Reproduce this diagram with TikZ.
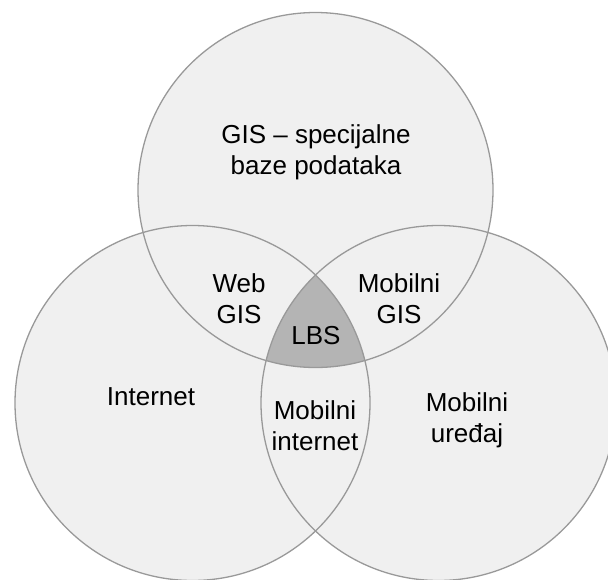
\documentclass[tikz,border=0pt]{standalone}
\usepackage{fontspec}
\setmainfont{Liberation Sans}
\definecolor{circfill}{HTML}{F0F0F0}
\definecolor{circline}{HTML}{999999}
\definecolor{corefill}{HTML}{B4B4B4}
\begin{document}
\begin{tikzpicture}[x=1pt,y=-1pt,
  venn/.style={draw=circline,line width=1.3pt},
  lbl/.style={align=center,font=\fontsize{26}{31}\selectfont,text=black,inner sep=0pt}]
\useasboundingbox (0,0) rectangle (608,579);
\clip (0,0) rectangle (608,579);
\coordinate (ct) at (315.5,190);
\coordinate (cl) at (192.5,403);
\coordinate (cr) at (438.5,403);
\fill[circfill] (ct) circle (177.5);
\fill[circfill] (cl) circle (177.5);
\fill[circfill] (cr) circle (177.5);
\begin{scope}
  \clip (ct) circle (177.5);
  \clip (cl) circle (177.5);
  \fill[corefill] (cr) circle (177.5);
\end{scope}
\draw[venn] (ct) circle (177.5);
\draw[venn] (cl) circle (177.5);
\draw[venn] (cr) circle (177.5);
\node[lbl] (gis) at (316,152) {GIS – specijalne\\baze podataka};
\node[lbl] (web) at (239,299) {Web\\GIS};
\node[lbl] (mgis) at (399,299) {Mobilni\\GIS};
\node[lbl] (lbs) at (316,336) {LBS};
\node[lbl] (inet) at (151,397) {Internet};
\node[lbl] (mint) at (315,426) {Mobilni\\internet};
\node[lbl] (mdev) at (467,420) {Mobilni\\uređaj};
\end{tikzpicture}
\end{document}
